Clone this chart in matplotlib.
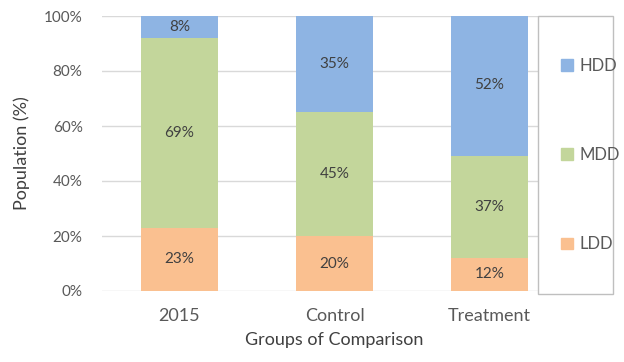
import numpy as np
import matplotlib.pyplot as plt
from matplotlib.patches import Rectangle, Patch

groups = ["2015", "Control", "Treatment"]
series = ["LDD", "MDD", "HDD"]
ldd = [23, 20, 12]
mdd = [69, 45, 37]
hdd = [8, 35, 52]
yticks = [0, 20, 40, 60, 80, 100]

COLORS = {"LDD": "#FAC090", "MDD": "#C3D69B", "HDD": "#8EB4E3"}

plt.rcParams.update({"font.family": ["Lato", "DejaVu Sans"]})
fig = plt.figure(figsize=(6.24, 3.62), dpi=100)
W, H = 624, 362
ax = fig.add_axes([102 / W, 1 - 291 / H, 465 / W, 275 / H])

x = np.arange(len(groups))
bottom = np.zeros(len(groups))
for name, vals in zip(series, [ldd, mdd, hdd]):
    vals = np.array(vals, dtype=float)
    ax.bar(x, vals, 0.5, bottom=bottom, color=COLORS[name], zorder=2)
    for xi, b, v in zip(x, bottom, vals):
        ax.text(xi, b + v / 2, f"{int(v)}%", ha="center", va="center",
                fontsize=11, color="#404040", zorder=3)
    bottom += vals

ax.set_xlim(-0.5, 2.5)
ax.set_ylim(0, 100)
ax.set_yticks(yticks)
ax.set_yticklabels([f"{t}%" for t in yticks])
ax.set_xticks(x)
ax.set_xticklabels(groups)
ax.yaxis.grid(True, color="#D9D9D9", lw=1, zorder=0)
ax.set_axisbelow(True)
for s in ax.spines.values():
    s.set_visible(False)
ax.tick_params(axis="both", length=0, colors="#595959")
ax.tick_params(axis="y", labelsize=11, pad=14)
ax.tick_params(axis="x", labelsize=13, pad=12)
ax.set_ylabel("Population (%)", fontsize=13, color="#404040", labelpad=10)
ax.set_xlabel("Groups of Comparison", fontsize=13, color="#404040", labelpad=6)

# legend box
fig.patches.append(Rectangle((538 / W, 1 - 294 / H), 75 / W, 278 / H,
                             transform=fig.transFigure, facecolor="white",
                             edgecolor="#BFBFBF", lw=1, zorder=5))
handles = [Patch(color=COLORS[s]) for s in ["HDD", "MDD", "LDD"]]
fig.legend(handles, ["HDD", "MDD", "LDD"], loc="center left",
           bbox_to_anchor=(546 / W, 1 - 155 / H), frameon=False,
           fontsize=12, labelcolor="#595959", handlelength=0.7,
           handleheight=0.7, handletextpad=0.4, labelspacing=4.4)

fig.savefig("out.png", dpi=100)
